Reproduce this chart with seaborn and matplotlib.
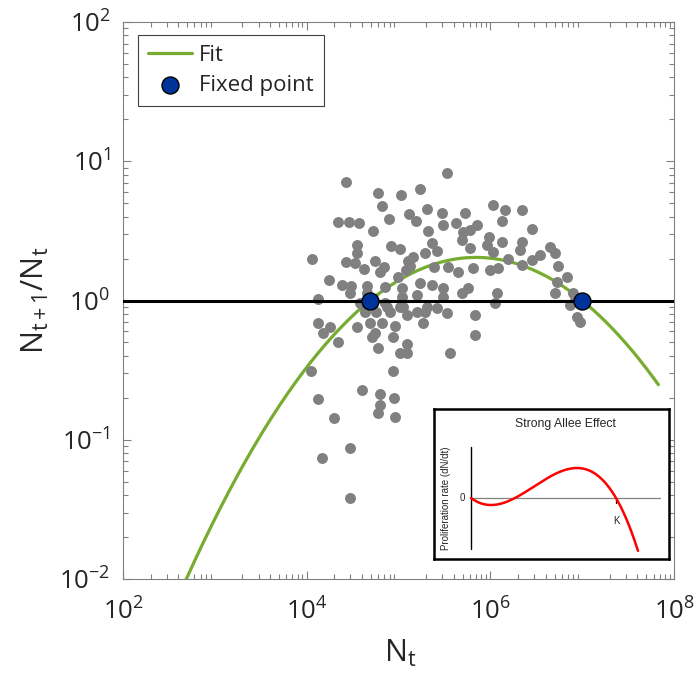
import numpy as np
import pandas as pd
import matplotlib
matplotlib.use("Agg")
import matplotlib.pyplot as plt
import seaborn as sns

# ---------------- data ----------------
# log10 of N_t and of N_{t+1}/N_t for each observed point
log_N_t = [4.43, 5.53, 4.78, 5.03, 5.23, 4.82, 5.31, 4.34, 4.46, 4.57, 4.90, 5.11, 5.19,
           4.72, 5.32, 4.55, 4.92, 5.02, 5.36, 4.55, 4.06, 4.43, 4.53, 4.74, 4.84, 4.62,
           4.80, 5.10, 5.16, 5.29, 5.42, 5.08, 5.13, 5.39, 4.24, 4.38, 4.48, 4.66, 4.99,
           5.23, 5.36, 4.47, 4.66, 4.85, 5.04, 5.20, 5.04, 4.12,
           4.63, 4.76, 4.91, 5.02, 5.09, 5.20, 5.29, 5.42, 4.12, 4.25, 4.18, 4.55, 4.69,
           4.82, 4.96, 5.27, 4.74, 4.71, 4.94, 4.34, 5.09, 4.78, 5.02, 5.09, 5.56, 4.05,
           4.94, 4.60, 4.12, 4.80, 4.95, 4.80, 4.78, 4.96, 4.30, 4.17, 4.47, 4.47,
           6.03, 6.16, 6.35, 5.47, 5.72, 6.13, 5.63, 5.48, 5.85, 5.78, 6.45, 5.70, 5.99,
           6.13, 6.35, 5.69, 5.78, 5.96, 6.32, 6.03, 6.65, 6.70, 6.54, 6.45, 6.19, 6.35,
           5.54, 5.65, 5.81, 6.00, 6.08, 6.74, 6.84, 6.73, 5.48, 5.76, 5.69, 6.07, 6.90,
           6.70, 5.48, 6.05, 6.87, 5.53, 5.83, 6.94, 6.98, 5.83,
           6.92, 4.58, 4.85, 4.87, 4.63, 5.05, 5.31]
log_ratio = [0.851, 0.916, 0.772, 0.758, 0.801, 0.679, 0.657, 0.564, 0.564, 0.557, 0.585,
             0.621, 0.571, 0.499, 0.499, 0.399, 0.391, 0.370, 0.413, 0.341, 0.298, 0.276,
             0.269, 0.284, 0.241, 0.226, 0.205, 0.284, 0.312, 0.341, 0.356, 0.219, 0.248,
             0.241, 0.147, 0.111, 0.104, 0.104, 0.169, 0.126, 0.111, 0.054, 0.054, 0.097,
             0.090, 0.040, 0.025, 0.011,
             -0.083, -0.083, -0.083, -0.047, -0.104, -0.083, -0.083, -0.054, -0.162,
             -0.190, -0.233, -0.190, -0.162, -0.162, -0.183, -0.162, -0.233, -0.262,
             -0.262, -0.298, -0.312, -0.341, -0.377, -0.377, -0.377, -0.506, -0.506,
             -0.643, -0.707, -0.671, -0.700, -0.750, -0.808, -0.837, -0.844, -1.131,
             -1.059, -1.418,
             0.686, 0.650, 0.650, 0.628, 0.628, 0.571, 0.557, 0.542, 0.542, 0.506, 0.513,
             0.492, 0.456, 0.420, 0.420, 0.434, 0.377, 0.399, 0.363, 0.348, 0.384, 0.341,
             0.327, 0.291, 0.298, 0.255, 0.241, 0.205, 0.233, 0.219, 0.233, 0.248, 0.169,
             0.133, 0.090, 0.090, 0.054, 0.054, 0.054, 0.054, 0.025, -0.018, -0.032,
             -0.090, -0.104, -0.118, -0.154, -0.248,
             0.004, -0.018, -0.018, -0.047, -0.047, -0.047, -0.047]

fixed_N = [4.9e4, 1.0e7]
fixed_ratio = [1.0, 1.0]

# quadratic fit in log-log space: log R = c (log N - r1)(log N - r2)
fit_roots_log = [4.69, 7.00]
fit_curvature = -0.232
fit_log_range = [2.5, 7.83]

x_lim = [1e2, 1e8]
y_lim = [1e-2, 1e2]

# inset schematic (strong Allee effect): dN/dt ~ N (N - A)(K - N)
allee_A = 44.0
allee_K = 145.0
allee_scale = 1.17e-4
allee_N_max = 167.0

# ---------------- style ----------------
sns.set_style("ticks")
plt.rcParams['font.family'] = ['Open Sans', 'DejaVu Sans']
plt.rcParams['mathtext.fontset'] = 'custom'
plt.rcParams['mathtext.rm'] = 'Open Sans'
plt.rcParams['mathtext.it'] = 'Open Sans:italic'
plt.rcParams['mathtext.bf'] = 'Open Sans:bold'
plt.rcParams['mathtext.default'] = 'regular'
plt.rcParams['axes.unicode_minus'] = False

fig = plt.figure(figsize=(6.96, 6.82), dpi=100)
ax = fig.add_axes([123/696, 1 - 579/682, 551/696, 557/682])
ax.set_xscale('log')
ax.set_yscale('log')

df = pd.DataFrame({'N': 10 ** np.array(log_N_t), 'R': 10 ** np.array(log_ratio)})
u = np.linspace(fit_log_range[0], fit_log_range[1], 400)
fit_df = pd.DataFrame({'N': 10 ** u,
                       'R': 10 ** (fit_curvature * (u - fit_roots_log[0]) * (u - fit_roots_log[1]))})

sns.lineplot(data=fit_df, x='N', y='R', color='#77AC30', lw=2.3, ax=ax, label='Fit', zorder=2)
sns.scatterplot(data=df, x='N', y='R', color='#808080', s=62, linewidth=0, ax=ax,
                zorder=3, legend=False)
ax.axhline(1.0, color='black', lw=2.2, zorder=4)
sns.scatterplot(x=fixed_N, y=fixed_ratio, color='#003399', edgecolor='black', s=150,
                linewidth=1.0, zorder=5, label='Fixed point', ax=ax)

ax.set_xlim(*x_lim)
ax.set_ylim(*y_lim)
ax.set_xticks([1e2, 1e4, 1e6, 1e8])
ax.set_yticks([1e-2, 1e-1, 1e0, 1e1, 1e2])
ax.tick_params(which='both', direction='in', top=True, right=True, colors='#808080',
               labelcolor='#262626', labelsize=18.5, width=0.8)
ax.tick_params(which='major', length=6)
ax.tick_params(axis='x', which='major', pad=14)
ax.tick_params(axis='y', which='major', pad=9)
ax.tick_params(which='minor', length=3.5)
for sp in ax.spines.values():
    sp.set_color('#808080')
    sp.set_linewidth(0.8)

ax.set_xlabel('$N_t$', fontsize=22, color='#262626')
ax.set_ylabel('$N_{t+1}/N_t$', fontsize=22, color='#262626')
ax.xaxis.set_label_coords(0.503, -0.105)
ax.yaxis.set_label_coords(-0.13, 0.5)

leg = ax.legend(loc='upper left', bbox_to_anchor=(0.027, 0.977), borderaxespad=0,
                fontsize=16, frameon=True, fancybox=False, framealpha=1,
                edgecolor='#404040', handlelength=2.0, labelspacing=0.4,
                handletextpad=0.3, borderpad=0.45)
leg.get_frame().set_linewidth(0.8)
for t in leg.get_texts():
    t.set_color('#262626')

# ---------------- inset ----------------
axi = fig.add_axes([434/696, 1 - 559/682, 235/696, 150/682])
axi.set_xlim(-37, 198)
axi.set_ylim(-61, 89)
axi.set_xticks([])
axi.set_yticks([])
for sp in axi.spines.values():
    sp.set_color('black')
    sp.set_linewidth(1.8)
    sp.set_visible(True)
axi.set_facecolor('white')

n = np.linspace(0, allee_N_max, 300)
inset_df = pd.DataFrame({'N': n, 'rate': allee_scale * n * (n - allee_A) * (allee_K - n)})
axi.axhline(0, xmin=37/235, xmax=(37+189)/235, color='#808080', lw=0.9, zorder=1)
axi.axvline(0, ymin=(61-51)/150, ymax=(61+51)/150, color='black', lw=1.0, zorder=1)
sns.lineplot(data=inset_df, x='N', y='rate', color='red', lw=1.8, ax=axi, zorder=3)
axi.plot([allee_K, allee_K], [0, -5], color='black', lw=0.9, zorder=2)
axi.set_xlabel('')
axi.set_ylabel('')
ifont = ['Liberation Sans', 'DejaVu Sans']
axi.text(-9, 0, '0', fontsize=7, family=ifont, ha='center', va='center')
axi.text(allee_K, -23, 'K', fontsize=7, family=ifont, ha='center', va='center')
axi.text(94, 74, 'Strong Allee Effect', fontsize=8.8, family=ifont, ha='center', va='center')
axi.text(-25, 0, 'Proliferation rate (dN/dt)', fontsize=7, family=ifont, rotation=90,
         ha='center', va='center')

fig.savefig('out.png', dpi=100)
